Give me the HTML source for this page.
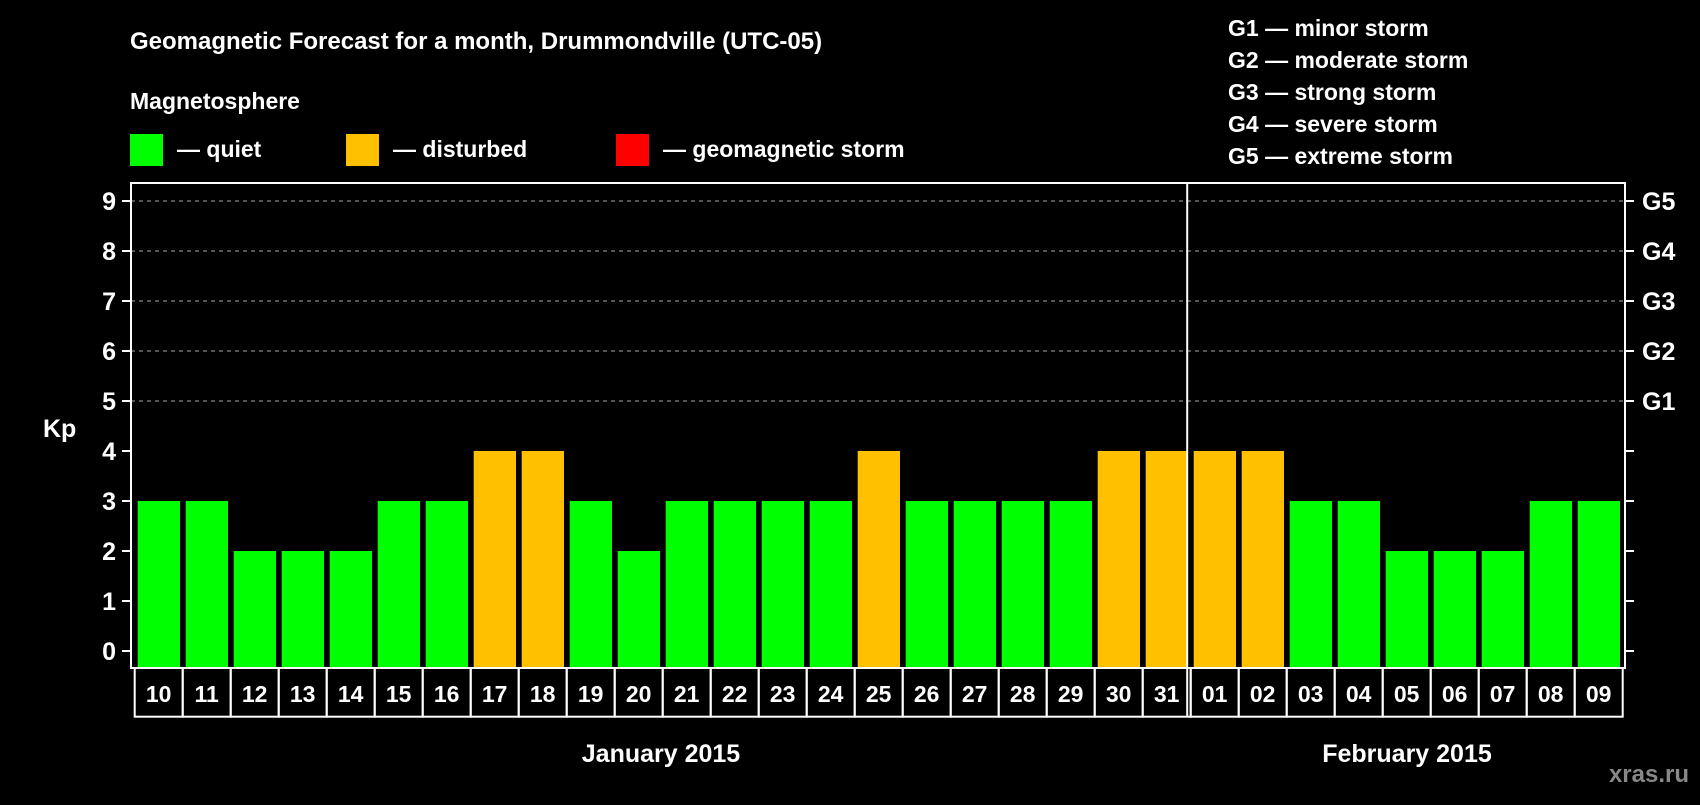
<!DOCTYPE html>
<html><head><meta charset="utf-8"><style>
body{margin:0;background:#000;width:1700px;height:800px;overflow:hidden}
svg text{font-family:"Liberation Sans",Arial,sans-serif;font-weight:bold;fill:#fff}
</style></head><body>
<svg width="1700" height="800">
<rect width="1700" height="800" fill="#000"/>
<g id="static">
<text x="130" y="49" font-size="24">Geomagnetic Forecast for a month, Drummondville (UTC-05)</text>
<text x="130" y="109" font-size="23">Magnetosphere</text>
<rect x="130" y="134" width="33" height="32" fill="#00ff00"/>
<text x="177" y="157" font-size="23">— quiet</text>
<rect x="346" y="134" width="33" height="32" fill="#ffc000"/>
<text x="393" y="157" font-size="23">— disturbed</text>
<rect x="616" y="134" width="33" height="32" fill="#ff0000"/>
<text x="663" y="157" font-size="23">— geomagnetic storm</text>
<g font-size="23">
<text x="1228" y="36">G1 — minor storm</text>
<text x="1228" y="68">G2 — moderate storm</text>
<text x="1228" y="100">G3 — strong storm</text>
<text x="1228" y="132">G4 — severe storm</text>
<text x="1228" y="164">G5 — extreme storm</text>
</g>
<text x="43" y="437" font-size="25">Kp</text>
<text x="661" y="762" font-size="25" text-anchor="middle">January 2015</text>
<text x="1407" y="762" font-size="25" text-anchor="middle">February 2015</text>
<text x="1689" y="782" font-size="24" text-anchor="end" style="fill:#888">xras.ru</text>
</g>
<g id="plot"></g>
</svg>
<script>
const days=["10","11","12","13","14","15","16","17","18","19","20","21","22","23","24","25","26","27","28","29","30","31","01","02","03","04","05","06","07","08","09"];
const kp=[3,3,2,2,2,3,3,4,4,3,2,3,3,3,3,4,3,3,3,3,4,4,4,4,3,3,2,2,2,3,3];
const yTicks=[0,1,2,3,4,5,6,7,8,9];
const gLabels=["G1","G2","G3","G4","G5"];
const gLevels=[5,6,7,8,9];
const monthSplit=22;
const NS="http://www.w3.org/2000/svg";
const g=document.getElementById('plot');
const L=131,R=1625,T=183,B=668;
const y=v=>651-v*50;
const x0=i=>137.7+i*48;
function mk(t,a){const e=document.createElementNS(NS,t);for(const k in a)e.setAttribute(k,a[k]);g.appendChild(e);return e;}
yTicks.forEach(v=>{
 if(v>=5){const gl=mk('line',{x1:L,x2:R,y1:y(v),y2:y(v),stroke:'#888','stroke-width':1.2,'stroke-dasharray':'4,4'});
 
 }
 const t1=mk('line',{x1:122,x2:L,y1:y(v),y2:y(v),stroke:'#fff','stroke-width':2});
 
 
 const t2=mk('line',{x1:R,x2:1634,y1:y(v),y2:y(v),stroke:'#fff','stroke-width':2});
 
 
 const lb=mk('text',{x:116,y:y(v)+9,'font-size':25,'text-anchor':'end'});lb.textContent=v;
 
 
});
gLabels.forEach((s,i)=>{const t=mk('text',{x:1642,y:y(gLevels[i])+9,'font-size':25});t.textContent=s;
 
 });
kp.forEach((v,i)=>{
 const c=v>=5?'#ff0000':(v>=4?'#ffc000':'#00ff00');
 const r=mk('rect',{x:x0(i),y:y(v),width:42.3,height:B-y(v),fill:c});
 
 
 const cl=134.7+i*48;
 const cell=mk('rect',{x:cl,y:B,width:48,height:48.7,fill:'none',stroke:'#fff','stroke-width':2});
 
 
 const t=mk('text',{x:cl+24,y:B+34,'font-size':23,'text-anchor':'middle'});t.textContent=days[i];
 
 
});
const fr=mk('rect',{x:L,y:T,width:R-L,height:B-T,fill:'none',stroke:'#fff','stroke-width':2});


const sx=134.7+monthSplit*48-3.5;
const sep=mk('line',{x1:sx,x2:sx,y1:T,y2:B+48.7,stroke:'#fff','stroke-width':2});


</script>
</body></html>
